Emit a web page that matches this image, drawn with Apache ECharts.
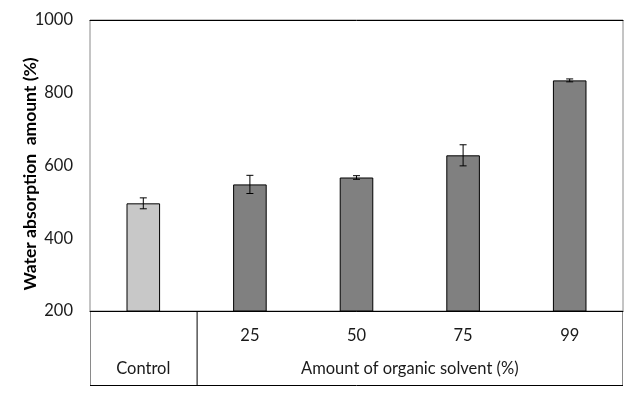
<!DOCTYPE html>
<html>
<head>
<meta charset="utf-8">
<script src="https://cdn.jsdelivr.net/npm/echarts@6/dist/echarts.min.js"></script>
<style>
html,body{margin:0;padding:0;background:#fff;}
#main{width:633px;height:396px;}
</style>
</head>
<body>
<div id="main"></div>
<script>
var categories = ['Control', '25', '50', '75', '99'];
var values = [496, 548, 567, 628, 834];
var errors = [15, 25, 5, 29, 4];
var yTicks = [200, 400, 600, 800, 1000];
var groupLabel = 'Amount of organic solvent (%)';
var yTitle = 'Water absorption  amount (%)';

var FONT = 'Lato';
var FS = 16.5;
var G = {left: 90, right: 10, top: 20, bottom: 85};
var W = 633, H = 396;
var gx0 = G.left, gx1 = W - G.right, gy1 = H - G.bottom, tableBottom = 385;
var band = (gx1 - gx0) / categories.length;

var chart = echarts.init(document.getElementById('main'), null, {renderer: 'canvas'});

var barData = values.map(function (v, i) {
  return {
    value: v,
    itemStyle: {color: i === 0 ? '#c8c8c8' : '#808080', borderColor: '#000', borderWidth: 1}
  };
});

chart.setOption({
  animation: false,
  backgroundColor: '#fff',
  grid: {left: G.left, right: G.right, top: G.top, bottom: G.bottom, show: true, borderColor: '#8a8a8a', borderWidth: 1},
  xAxis: [{
    type: 'category',
    data: categories,
    axisLine: {show: true, lineStyle: {color: '#000', width: 1}},
    axisTick: {show: false},
    axisLabel: {
      margin: 16,
      fontFamily: FONT, fontSize: FS, color: '#1a1a1a',
      formatter: function (v) { return v === categories[0] ? '' : v; }
    }
  }, {
    type: 'category',
    position: 'top',
    data: categories,
    axisLine: {show: true, lineStyle: {color: '#000', width: 1}},
    axisTick: {show: false},
    axisLabel: {show: false}
  }],
  yAxis: {
    type: 'value',
    min: yTicks[0], max: yTicks[yTicks.length - 1], interval: 200,
    splitLine: {show: false},
    axisLine: {show: false},
    axisTick: {show: false},
    axisLabel: {margin: 17, fontFamily: FONT, fontSize: FS, color: '#1a1a1a', formatter: function (v) { return String(v); }},
    name: ''
  },
  series: [{
    type: 'bar',
    data: barData,
    barWidth: '31.5%'
  }, {
    type: 'custom',
    data: values.map(function (v, i) { return [i, v - errors[i], v + errors[i]]; }),
    renderItem: function (params, api) {
      var lo = api.coord([api.value(0), api.value(1)]);
      var hi = api.coord([api.value(0), api.value(2)]);
      var c = 3.5;
      var st = {stroke: '#000', lineWidth: 1};
      return {
        type: 'group',
        children: [
          {type: 'line', shape: {x1: lo[0], y1: lo[1], x2: hi[0], y2: hi[1]}, style: st},
          {type: 'line', shape: {x1: lo[0] - c, y1: lo[1], x2: lo[0] + c, y2: lo[1]}, style: st},
          {type: 'line', shape: {x1: hi[0] - c, y1: hi[1], x2: hi[0] + c, y2: hi[1]}, style: st}
        ]
      };
    },
    z: 5
  }],
  graphic: [
    {type: 'line', shape: {x1: gx0 + 0.5, y1: gy1, x2: gx0 + 0.5, y2: tableBottom}, style: {stroke: '#8a8a8a', lineWidth: 1}},
    {type: 'line', shape: {x1: gx1 - 0.5, y1: gy1, x2: gx1 - 0.5, y2: tableBottom}, style: {stroke: '#8a8a8a', lineWidth: 1}},
    {type: 'line', shape: {x1: gx0 + band + 0.5, y1: gy1, x2: gx0 + band + 0.5, y2: tableBottom}, style: {stroke: '#000', lineWidth: 1}},
    {type: 'line', shape: {x1: gx0, y1: tableBottom + 0.5, x2: gx1, y2: tableBottom + 0.5}, style: {stroke: '#000', lineWidth: 1}},
    {type: 'text', x: gx0 + band / 2, y: 369, style: {text: categories[0], font: FS + 'px Lato', fill: '#1a1a1a', textAlign: 'center', textVerticalAlign: 'middle'}},
    {type: 'text', x: gx0 + band + (gx1 - gx0 - band) / 2, y: 369, style: {text: groupLabel, font: FS + 'px Lato', fill: '#1a1a1a', textAlign: 'center', textVerticalAlign: 'middle'}},
    {type: 'text', x: 30, y: 174, rotation: Math.PI / 2, style: {text: yTitle, font: 'bold 17.5px Lato', fill: '#000', textAlign: 'center', textVerticalAlign: 'middle'}}
  ]
});
</script>
</body>
</html>
